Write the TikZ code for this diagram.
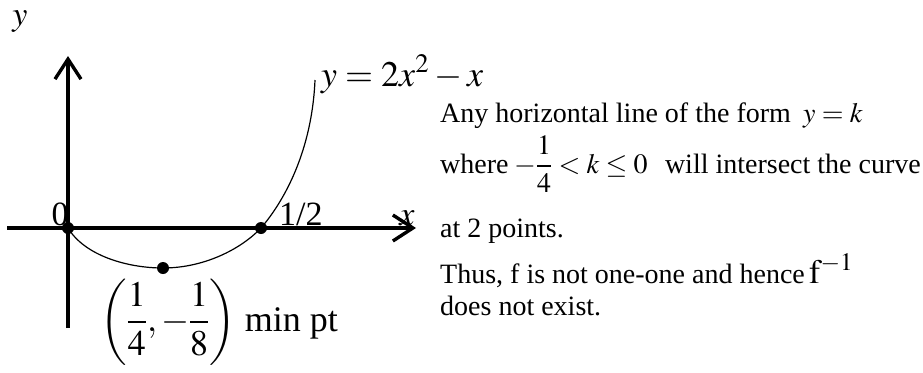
\documentclass[tikz,border=0pt]{standalone}
\usepackage{amsmath}
\usepackage{mathptmx}
\usepackage{fontspec}
\setmainfont{Liberation Serif}
\usetikzlibrary{arrows.meta}
\tikzset{
  axis/.style={line width=3.4pt,-{Straight Barb[length=20pt,width=26pt,line width=3.4pt]}},
  curveline/.style={line width=1.2pt},
  dot/.style={circle,fill=black,inner sep=0pt,minimum size=12pt},
  big/.style={font=\fontsize{36}{40}\selectfont,inner sep=0pt},
  body/.style={font=\fontsize{28}{32}\selectfont,inner sep=0pt,anchor=base west}
}
\begin{document}
\begin{tikzpicture}[x=1pt,y=-1pt]
\useasboundingbox (0,0) rectangle (923,372);
% axes
\coordinate (xl) at (7,228);
\coordinate (xr) at (416,228);
\coordinate (yb) at (68,328);
\coordinate (yt) at (68,56);
\draw[axis] (xl) -- (xr);
\draw[axis] (yb) -- (yt);
% points
\node[dot] (O) at (68,228) {};
\node[dot] (H) at (261,228) {};
\node[dot] (M) at (163,268) {};
\coordinate (top) at (315,80);
% curve
\draw[curveline] (O.center) .. controls (85,256) and (128,268) .. (M.center)
  .. controls (203,268) and (240,250) .. (H.center)
  .. controls (285,200) and (312,150) .. (top);
% labels
\node[big,font=\fontsize{34}{40}\selectfont] (ylab) at (20,22) {$y$};
\node[big,anchor=base west] (eq) at (321,86) {$y=2x^{2}-x$};
\node[big,font=\fontsize{34}{40}\selectfont,anchor=base] (zero) at (60,225) {0};
\node[big,font=\fontsize{34}{40}\selectfont,anchor=base west] (half) at (279,225) {1/2};
\node[big,font=\fontsize{34}{40}\selectfont,anchor=base] (xlab) at (407,225) {$x$};
\node[big,anchor=west] (minpt) at (100,322) {$\left(\dfrac{1}{4},-\dfrac{1}{8}\right)$ min pt};
% text
\node[body] (l1) at (440,122) {Any horizontal line of the form};
\node[body] (l1m) at (803,122) {$y=k$};
\node[body] (l2a) at (440,173) {where};
\node[body] (l2m) at (514,173) {$-\dfrac{1}{4}<k\leq 0$};
\node[body,anchor=base east] (l2b) at (921,173) {will intersect the curve};
\node[body] (l3) at (440,237) {at 2 points.};
\node[body] (l4) at (440,283) {Thus, f is not one-one and hence};
\node[body,font=\fontsize{34}{36}\selectfont] (l4m) at (809,283) {$\mathrm{f}^{-1}$};
\node[body] (l5) at (440,315) {does not exist.};
\end{tikzpicture}
\end{document}
